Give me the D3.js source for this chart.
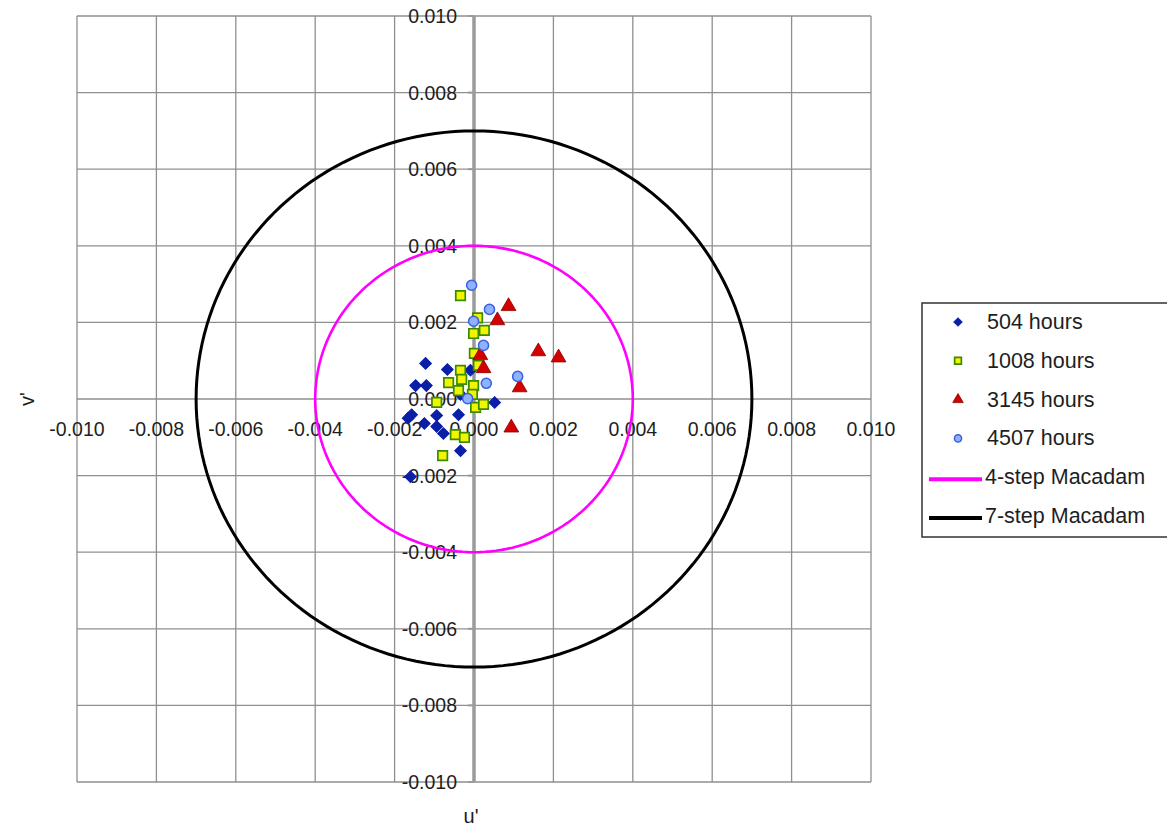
<!DOCTYPE html>
<html>
<head>
<meta charset="utf-8">
<script src="https://cdn.jsdelivr.net/npm/d3@7"></script>
<style>
  body { margin: 0; background: #fff; }
  svg { display: block; }
  text { font-family: "Liberation Sans", Arial, sans-serif; fill: #1e1e1e; }
</style>
</head>
<body>
<svg id="chart" width="1167" height="830"></svg>
<script>
// Axis ticks (u' and v' share the same ±0.010 range)
const uTicks = [-0.010, -0.008, -0.006, -0.004, -0.002, 0.000, 0.002, 0.004, 0.006, 0.008, 0.010];
const vTicks = [-0.010, -0.008, -0.006, -0.004, -0.002, 0.000, 0.002, 0.004, 0.006, 0.008, 0.010];

// Colour shift (du', dv') after each ageing interval
const hours504 = [
  [-0.00122, 0.00093], [-0.00067, 0.00077], [-0.00009, 0.00075], [-0.00147, 0.00035],
  [-0.00120, 0.00035], [-0.00034, 0.00012], [0.00052, -0.00009], [-0.00157, -0.00041],
  [-0.00166, -0.00050], [-0.00094, -0.00043], [-0.00039, -0.00041], [-0.00125, -0.00064],
  [-0.00094, -0.00072], [-0.00077, -0.00090], [-0.00034, -0.00135], [-0.00160, -0.00203]
];
const hours1008 = [
  [-0.00034, 0.00270], [0.00009, 0.00212], [0.00026, 0.00179], [-0.00001, 0.00171],
  [0.00001, 0.00119], [0.00011, 0.00088], [-0.00034, 0.00075], [-0.00031, 0.00051],
  [-0.00064, 0.00043], [-0.00001, 0.00035], [-0.00039, 0.00022], [-0.00004, 0.00012],
  [-0.00094, -0.00009], [0.00004, -0.00022], [0.00024, -0.00014], [-0.00047, -0.00093],
  [-0.00024, -0.00100], [-0.00079, -0.00148]
];
const hours3145 = [
  [0.00087, 0.00242], [0.00059, 0.00205], [0.00016, 0.00114], [0.00024, 0.00080],
  [0.00162, 0.00124], [0.00213, 0.00108], [0.00115, 0.00030], [0.00094, -0.00075]
];
const hours4507 = [
  [-0.00006, 0.00297], [0.00039, 0.00234], [-0.00001, 0.00203], [0.00024, 0.00140],
  [0.00031, 0.00041], [0.00110, 0.00059], [-0.00016, 0.00001]
];

// MacAdam tolerance circles
const macadamLabels = ["4-step Macadam", "7-step Macadam"];
const macadamRadii = [0.004, 0.007];
const macadamColors = ["#ff00ff", "#000000"];

const seriesLabels = ["504 hours", "1008 hours", "3145 hours", "4507 hours"];
const seriesData = [hours504, hours1008, hours3145, hours4507];

const svg = d3.select("#chart");
const plot = { left: 77, right: 871, top: 16, bottom: 782 };

const x = d3.scaleLinear().domain([-0.010, 0.010]).range([plot.left, plot.right]);
const y = d3.scaleLinear().domain([-0.010, 0.010]).range([plot.bottom, plot.top]);

const gridColor = "#8f8f8f";

// Grid
const grid = svg.append("g");
grid.selectAll("line.vg").data(uTicks).join("line")
  .attr("x1", d => x(d)).attr("x2", d => x(d))
  .attr("y1", plot.top).attr("y2", plot.bottom)
  .attr("stroke", gridColor).attr("stroke-width", 1.3);
grid.selectAll("line.hg").data(vTicks).join("line")
  .attr("y1", d => y(d)).attr("y2", d => y(d))
  .attr("x1", plot.left).attr("x2", plot.right)
  .attr("stroke", gridColor).attr("stroke-width", 1.3);

// Vertical axis at u' = 0 with outside ticks
const vAxis = svg.append("g");
vAxis.append("line")
  .attr("x1", x(0)).attr("x2", x(0))
  .attr("y1", plot.top).attr("y2", plot.bottom)
  .attr("stroke", "#9a9a9a").attr("stroke-width", 3.5);
vAxis.selectAll("line.tk").data(vTicks).join("line")
  .attr("x1", x(0) - 6).attr("x2", x(0))
  .attr("y1", d => y(d)).attr("y2", d => y(d))
  .attr("stroke", "#9a9a9a").attr("stroke-width", 2);

// Tick labels (plain hyphen for negatives)
const fmt = d => d3.format(".3f")(d).replace("\u2212", "-");
svg.append("g").selectAll("text").data(vTicks).join("text")
  .attr("x", x(0) - 17).attr("y", d => y(d))
  .attr("text-anchor", "end").attr("dominant-baseline", "central")
  .style("font-size", "19.5px")
  .text(fmt);
svg.append("g").selectAll("text").data(uTicks).join("text")
  .attr("x", d => x(d)).attr("y", y(0) + 30)
  .attr("text-anchor", "middle").attr("dominant-baseline", "central")
  .style("font-size", "19.5px")
  .text(fmt);

// Axis titles
svg.append("text").attr("x", x(0) - 3).attr("y", 816)
  .attr("text-anchor", "middle").attr("dominant-baseline", "central")
  .style("font-size", "20px").text("u'");
svg.append("text").attr("transform", `translate(27,${y(0)}) rotate(-90)`)
  .attr("text-anchor", "middle").attr("dominant-baseline", "central")
  .style("font-size", "20px").text("v'");

// MacAdam circles
const angles = d3.range(0, 361, 2).map(a => a * Math.PI / 180);
const circleLine = d3.line().x(p => x(p[0])).y(p => y(p[1]));
macadamRadii.forEach((r, i) => {
  svg.append("path")
    .attr("d", circleLine(angles.map(a => [r * Math.cos(a), r * Math.sin(a)])))
    .attr("fill", "none")
    .attr("stroke", macadamColors[i])
    .attr("stroke-width", i === 0 ? 2.6 : 3);
});

// Marker symbols (diamond = square turned 45°)
const markerStyles = [
  { type: d3.symbolSquare, rot: 45, size: 68, fill: "#0a1fa8", stroke: "#0a1fa8", sw: 1 },
  { type: d3.symbolSquare, rot: 0, size: 90, fill: "#f2f500", stroke: "#3c8a00", sw: 1.7 },
  { type: d3.symbolTriangle, rot: 0, size: 95, fill: "#d40000", stroke: "#8a0000", sw: 0.8 },
  { type: d3.symbolCircle, rot: 0, size: 80, fill: "#8fb2ff", stroke: "#3a5fe0", sw: 1.5 }
];

seriesData.forEach((data, i) => {
  const s = markerStyles[i];
  const sym = d3.symbol().type(s.type).size(s.size);
  svg.append("g").selectAll("path").data(data).join("path")
    .attr("d", sym)
    .attr("transform", d => `translate(${x(d[0])},${y(d[1])}) rotate(${s.rot})`)
    .attr("fill", s.fill).attr("stroke", s.stroke).attr("stroke-width", s.sw);
});

// Legend
const legend = svg.append("g");
legend.append("rect")
  .attr("x", 922).attr("y", 303).attr("width", 270).attr("height", 234)
  .attr("fill", "#fff").attr("stroke", "#333").attr("stroke-width", 1.5);
const rowY = i => 322 + i * 38.8;
seriesLabels.forEach((lab, i) => {
  const s = markerStyles[i];
  legend.append("path")
    .attr("d", d3.symbol().type(s.type).size(s.size * 0.5)())
    .attr("transform", `translate(958,${rowY(i)}) rotate(${s.rot})`)
    .attr("fill", s.fill).attr("stroke", s.stroke).attr("stroke-width", s.sw);
  legend.append("text").attr("x", 987).attr("y", rowY(i))
    .attr("dominant-baseline", "central").style("font-size", "21.5px").text(lab);
});
macadamLabels.forEach((lab, i) => {
  const yy = rowY(i + 4);
  legend.append("line").attr("x1", 929).attr("x2", 982)
    .attr("y1", yy + 2).attr("y2", yy + 2)
    .attr("stroke", macadamColors[i]).attr("stroke-width", 4);
  legend.append("text").attr("x", 985).attr("y", yy)
    .attr("dominant-baseline", "central").style("font-size", "21.5px").text(lab);
});
</script>
</body>
</html>
